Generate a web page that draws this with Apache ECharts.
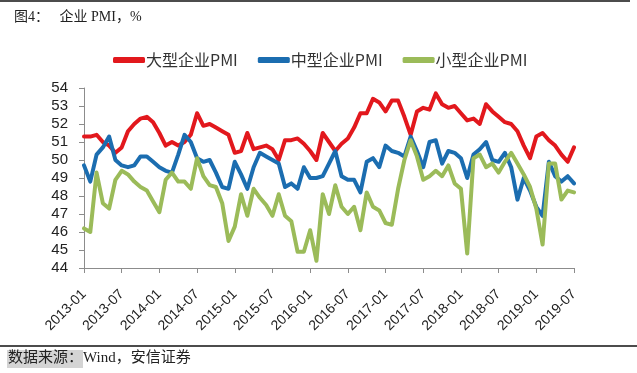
<!DOCTYPE html>
<html>
<head>
<meta charset="utf-8">
<script src="https://cdn.jsdelivr.net/npm/echarts@6/dist/echarts.min.js"></script>
<style>
html,body{margin:0;padding:0;background:#fff;}
#main{width:637px;height:373px;}
</style>
</head>
<body>
<div id="main"></div>
<script>
// Month categories 2013-01 .. 2019-07
const startYear = 2013, endYear = 2019, endMonth = 7;
const categories = [];
for (let y = startYear; y <= endYear; y++) {
  for (let m = 1; m <= 12; m++) {
    if (y === endYear && m > endMonth) break;
    categories.push(y + '-' + (m < 10 ? '0' + m : m));
  }
}
const seriesNames = ['大型企业PMI', '中型企业PMI', '小型企业PMI'];
const largePMI = [
  51.3,51.3,51.4,51.0,50.8,50.4,50.7,51.6,52.0,52.3,52.4,52.1,
  51.5,50.8,51.0,50.8,51.0,51.4,52.6,51.9,52.0,51.8,51.6,51.4,
  50.4,50.5,51.5,50.6,50.7,50.8,50.6,50.0,51.1,51.1,51.2,50.9,
  50.5,50.0,51.5,51.0,50.5,50.9,51.2,51.8,52.6,52.6,53.4,53.2,
  52.7,53.3,53.3,52.4,51.4,52.7,52.9,52.8,53.7,53.1,52.9,53.0,
  52.6,52.2,52.3,52.0,53.1,52.7,52.4,52.1,52.0,51.6,50.8,50.1,
  51.3,51.5,51.1,50.8,50.3,49.9,50.7
];
const mediumPMI = [
  49.7,48.8,50.3,50.7,51.3,50.0,49.7,49.6,49.7,50.2,50.2,49.9,
  49.6,49.4,49.3,50.3,51.4,51.0,50.1,49.9,50.0,49.3,48.5,48.4,
  49.9,49.2,48.4,49.6,50.4,50.2,50.0,49.8,48.5,48.7,48.4,49.6,
  49.0,49.0,49.1,49.8,50.5,49.1,48.9,48.9,48.2,49.9,50.1,49.6,
  50.8,50.5,50.4,50.2,51.3,50.5,49.6,51.0,51.1,49.8,50.5,50.4,
  50.1,49.0,50.3,50.6,51.0,50.0,49.9,50.4,49.6,47.8,49.0,48.3,
  47.4,46.9,49.9,49.1,48.8,49.1,48.7
];
const smallPMI = [
  46.2,46.0,49.3,47.6,47.3,48.9,49.4,49.2,48.8,48.5,48.3,47.7,
  47.1,48.9,49.3,48.8,48.8,48.4,50.1,49.1,48.6,48.5,47.6,45.5,
  46.3,48.1,46.9,48.4,47.9,47.5,46.9,48.1,46.9,46.6,44.9,44.9,
  46.1,44.4,48.1,47.0,48.6,47.4,47.0,47.4,46.1,48.2,47.4,47.2,
  46.5,46.4,48.4,50.0,51.1,50.2,48.9,49.1,49.4,49.1,49.7,48.7,
  48.4,44.8,50.1,50.3,49.6,49.8,49.3,49.9,50.4,49.8,49.2,48.5,
  47.3,45.3,49.8,49.8,47.8,48.3,48.2
];
const colors = ['#e2181d', '#1b6db0', '#9bbb59'];
const yMin = 44, yMax = 54, yInterval = 1;

const chart = echarts.init(document.getElementById('main'), null, {renderer: 'canvas'});
const mk = (name, data, color) => ({
  name: name, type: 'line', data: data, showSymbol: false, symbol: 'none',
  lineStyle: {color: color, width: 4, join: 'round', cap: 'round'},
  itemStyle: {color: color}, animation: false, z: 2
});
chart.setOption({
  animation: false,
  backgroundColor: '#fff',
  title: {
    text: '图4：   企业 PMI，%',
    left: 9, top: 5,
    textStyle: {fontFamily: '"Liberation Serif", "Noto Sans CJK SC", serif', fontSize: 14, fontWeight: 'normal', color: '#222'}
  },
  legend: {
    top: 47, left: 108,
    icon: 'roundRect', itemWidth: 32, itemHeight: 6, itemGap: 20,
    textStyle: {fontFamily: '"Noto Sans CJK SC", sans-serif', fontSize: 16, color: '#333', padding: [0,0,0,-4]},
    data: seriesNames
  },
  grid: {left: 84, right: 63, top: 88, bottom: 105, containLabel: false},
  xAxis: {
    type: 'category', data: categories, boundaryGap: false,
    axisLine: {lineStyle: {color: '#8c8c8c', width: 1}},
    axisTick: {interval: 5, length: 5, lineStyle: {color: '#8c8c8c'}},
    axisLabel: {interval: 5, rotate: 45, fontSize: 14, color: '#222', margin: 24, fontFamily: '"Liberation Sans", sans-serif'}
  },
  yAxis: {
    type: 'value', min: yMin, max: yMax, interval: yInterval,
    splitLine: {show: false},
    axisLine: {show: true, lineStyle: {color: '#8c8c8c', width: 1}},
    axisTick: {show: true, length: 5, lineStyle: {color: '#8c8c8c'}},
    axisLabel: {fontSize: 15, color: '#222', margin: 16, fontFamily: '"Liberation Sans", sans-serif'}
  },
  graphic: [
    {type: 'line', shape: {x1: 0, y1: 1, x2: 630, y2: 1}, style: {stroke: '#111', lineWidth: 1.5}},
    {type: 'line', shape: {x1: 0, y1: 346, x2: 637, y2: 346}, style: {stroke: '#111', lineWidth: 1.5}},
    {type: 'rect', shape: {x: 7, y: 350, width: 76, height: 18}, style: {fill: '#d4d4d4'}},
    {type: 'text', left: 8, top: 351, style: {text: '数据来源：Wind，安信证券', font: '15px "Liberation Serif", "Noto Sans CJK SC", serif', fill: '#222'}}
  ],
  series: [
    mk(seriesNames[0], largePMI, colors[0]),
    mk(seriesNames[1], mediumPMI, colors[1]),
    mk(seriesNames[2], smallPMI, colors[2])
  ]
});
</script>
</body>
</html>
